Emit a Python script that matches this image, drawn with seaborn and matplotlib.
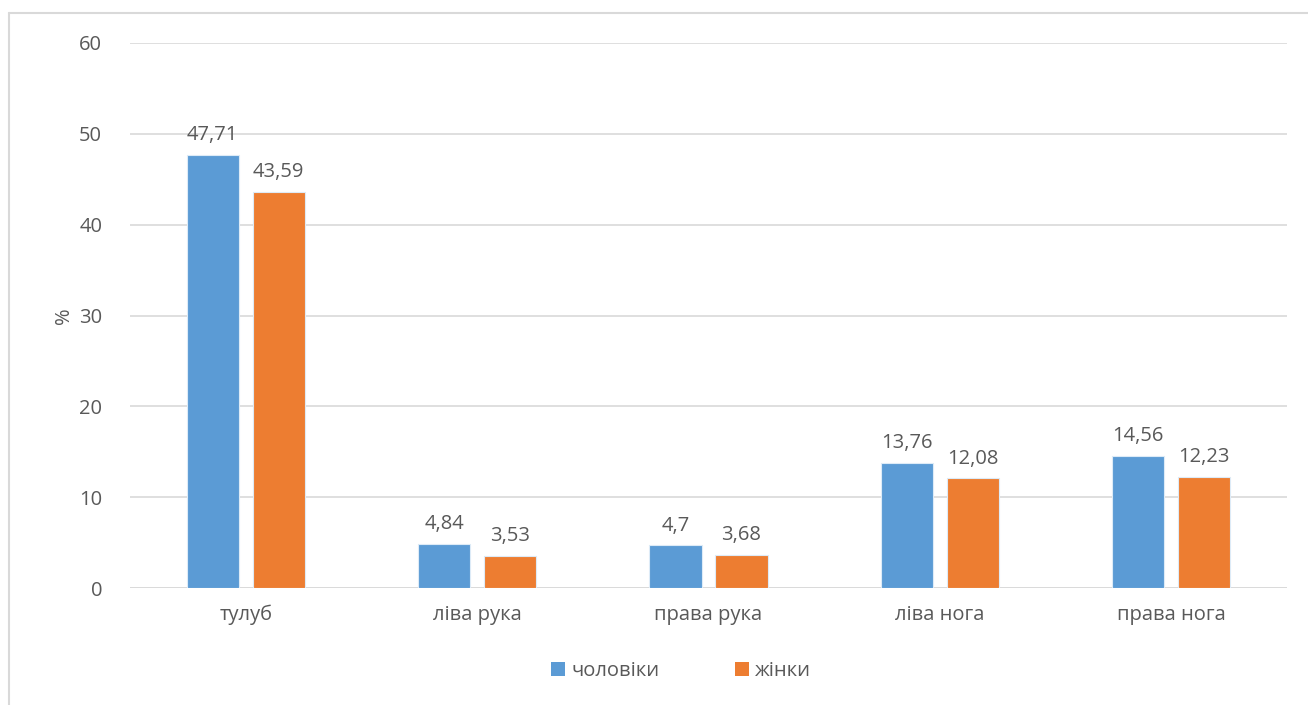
import matplotlib
matplotlib.use("Agg")
import matplotlib.pyplot as plt
import seaborn as sns
import pandas as pd
from matplotlib.lines import Line2D
from matplotlib.patches import Patch

categories = ["тулуб", "ліва рука", "права рука", "ліва нога", "права нога"]
series_names = ["чоловіки", "жінки"]
men = [47.71, 4.84, 4.7, 13.76, 14.56]
women = [43.59, 3.53, 3.68, 12.08, 12.23]
men_labels = ["47,71", "4,84", "4,7", "13,76", "14,56"]
women_labels = ["43,59", "3,53", "3,68", "12,08", "12,23"]
yticks = [0, 10, 20, 30, 40, 50, 60]

colors = ["#5B9BD5", "#ED7D31"]
text_color = "#595959"
fs = 14.5

sns.set_theme(style="white")
plt.rcParams["font.family"] = ["Open Sans", "DejaVu Sans"]

df = pd.DataFrame({
    "cat": categories * 2,
    "val": men + women,
    "ser": [series_names[0]] * len(categories) + [series_names[1]] * len(categories),
})

fig = plt.figure(figsize=(13.08, 7.05), dpi=100)
ax = fig.add_axes([130 / 1308, 1 - 588 / 705, (1287 - 130) / 1308, (588 - 43) / 705])

sns.barplot(data=df, x="cat", y="val", hue="ser", palette=colors, width=0.57, gap=0.21,
            ax=ax, legend=False, saturation=1, edgecolor="#DDEBF7", linewidth=0.8)

ax.set_ylim(0, 60)
ax.set_xlim(-0.5, len(categories) - 0.5)
ax.set_yticks(yticks)
ax.set_yticklabels([str(t) for t in yticks], fontsize=fs, color=text_color)
ax.tick_params(axis="y", length=0, pad=20)
ax.tick_params(axis="x", length=0, pad=12, labelsize=fs, labelcolor=text_color)
ax.set_xlabel("")
ax.set_ylabel("%", fontsize=fs, color=text_color, labelpad=4)
ax.grid(axis="y", color="#D9D9D9", linewidth=1.2)
ax.set_axisbelow(True)
for s in ["top", "right", "left", "bottom"]:
    ax.spines[s].set_visible(False)
ax.axhline(0, color="#D9D9D9", linewidth=1.2, zorder=0.5)

for cont, labs in zip(ax.containers, [men_labels, women_labels]):
    ax.bar_label(cont, labels=labs, padding=7, fontsize=fs, color=text_color)

handles = [Patch(facecolor=c, edgecolor="none") for c in colors]
fig.legend(handles, series_names, loc="center", bbox_to_anchor=(681 / 1308, 1 - 671 / 705),
           ncol=2, frameon=False, fontsize=fs, handlelength=0.7, handleheight=0.7,
           handletextpad=0.3, columnspacing=3.75, labelcolor=text_color)

# chart frame (Excel-like)
fig.add_artist(Line2D([9 / 1308, 9 / 1308], [0, 1 - 13 / 705], color="#D9D9D9", linewidth=1.5,
                      transform=fig.transFigure))
fig.add_artist(Line2D([9 / 1308, 1], [1 - 13 / 705, 1 - 13 / 705], color="#D9D9D9", linewidth=1.5,
                      transform=fig.transFigure))

fig.savefig("out.png", dpi=100)
